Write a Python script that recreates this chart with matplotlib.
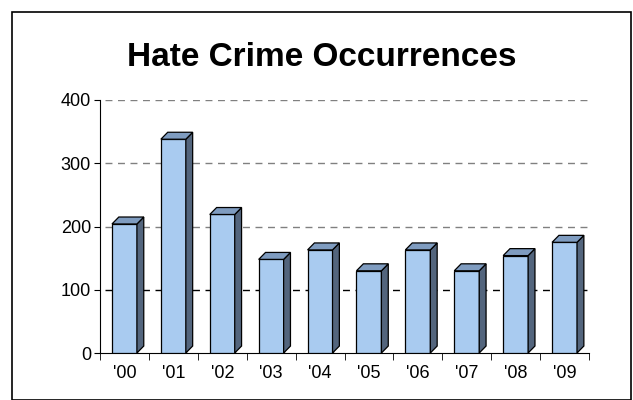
import matplotlib.pyplot as plt
import numpy as np
from matplotlib.patches import Polygon, Rectangle

years = ["'00", "'01", "'02", "'03", "'04", "'05", "'06", "'07", "'08", "'09"]
counts = [204, 338, 219, 148, 163, 130, 163, 130, 154, 175]

plt.rcParams['font.family'] = ['Liberation Sans', 'DejaVu Sans']

fig = plt.figure(figsize=(6.33, 4), dpi=100)
ax = fig.add_axes([100 / 633, 47 / 400, 489 / 633, 253 / 400])

front = '#a9cbf0'
side = '#53657d'
top = '#7f9cc0'

x = np.arange(len(years))
width = 0.51
shift = 0.0
dx = 0.14   # depth in category units
dy = 11     # depth in value units

for i, v in zip(x, counts):
    x0 = i + shift - width / 2
    x1 = i + shift + width / 2
    ax.add_patch(Rectangle((x0, 0), width, v, facecolor=front, edgecolor='black', lw=0.9, zorder=3))
    ax.add_patch(Polygon([(x1, 0), (x1 + dx, dy), (x1 + dx, v + dy), (x1, v)],
                         closed=True, facecolor=side, edgecolor='black', lw=0.9, zorder=3))
    ax.add_patch(Polygon([(x0, v), (x0 + dx, v + dy), (x1 + dx, v + dy), (x1, v)],
                         closed=True, facecolor=top, edgecolor='black', lw=0.9, zorder=3))

for g in [100, 200, 300, 400]:
    ax.axhline(g, xmin=0.01, color='black' if g == 100 else '#808080',
               ls=(0, (5, 4)), lw=1, zorder=1)

ax.set_xlim(-0.5, 9.5)
ax.set_ylim(0, 400)
ax.set_yticks([0, 100, 200, 300, 400])
ax.set_xticks(x)
ax.set_xticklabels(years)
ax.set_xticks(np.arange(-0.5, 10, 1), minor=True)
ax.tick_params(axis='x', which='major', length=0, labelsize=13, pad=9)
ax.tick_params(axis='x', which='minor', length=5, direction='out')
ax.tick_params(axis='y', length=4.5, direction='out', labelsize=13, pad=2)
ax.spines['top'].set_visible(False)
ax.spines['right'].set_visible(False)
ax.set_facecolor('none')

fig.text(322 / 633, 1 - 57 / 400, 'Hate Crime Occurrences', ha='center', va='center',
         fontsize=24, fontweight='bold')

fig.patches.append(Rectangle((12 / 633, 0), 619 / 633, 388 / 400, transform=fig.transFigure,
                             fill=False, edgecolor='black', lw=1.2))

fig.savefig('out.png', dpi=100)
